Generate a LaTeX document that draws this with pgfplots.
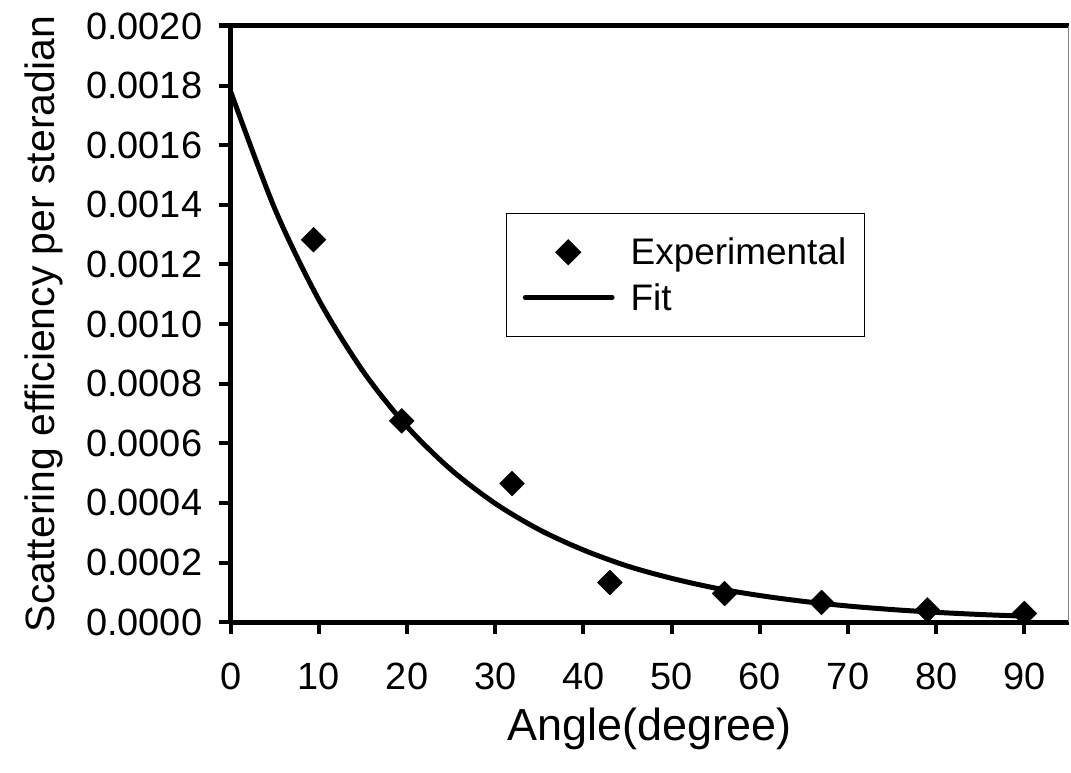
\documentclass[border=0pt]{standalone}
\usepackage{pgfplots}
\pgfplotsset{compat=1.18}
\usepackage{fontspec}
\setmainfont{Liberation Sans}

% measured scattering efficiency per steradian
\pgfplotstableread{
angle  eff
9.4    0.001283
19.4   0.000675
31.9   0.000465
43.0   0.000133
56.0   0.000096
67.0   0.000066
79.0   0.000041
90.0   0.000029
}\experimental

% exponential fit, tabulated every 5 degrees
\pgfplotstableread{
angle  eff
0      0.001780
5      0.001387
10     0.001081
15     0.000842
20     0.000656
25     0.000511
30     0.000398
35     0.000310
40     0.000242
45     0.000188
50     0.000147
55     0.000114
60     0.0000892
65     0.0000695
70     0.0000541
75     0.0000422
80     0.0000329
85     0.0000256
90     0.0000200
}\fitcurve

% legend pictures: one mark for the data, a long line for the fit
\pgfplotsset{
  markleg/.style={legend image code/.code={\draw[mark repeat=2, mark phase=2, ##1] plot coordinates {(0pt,0pt) (43pt,0pt) (87pt,0pt)};}},
  lineleg/.style={legend image code/.code={\draw[##1, line cap=round] (0pt,0pt) -- (87pt,0pt);}},
}

\begin{document}
\begin{tikzpicture}
\begin{axis}[
  scale only axis,
  width=839pt, height=597pt,
  xmin=0, xmax=95, ymin=0, ymax=0.002,
  axis x line*=bottom, axis y line*=left,
  axis line style={line width=5pt, -},
  xtick={0,10,20,30,40,50,60,70,80,90},
  ytick={0,0.0002,0.0004,0.0006,0.0008,0.0010,0.0012,0.0014,0.0016,0.0018,0.0020},
  tick align=outside,
  major tick length=12pt,
  tick style={line width=4pt, black},
  scaled y ticks=false,
  ticklabel style={font=\fontsize{38}{42}\selectfont},
  yticklabel style={xshift=-13pt, /pgf/number format/.cd, fixed, fixed zerofill, precision=4, assume math mode=true},
  xticklabel style={yshift=-25pt, /pgf/number format/assume math mode=true},
  xlabel={Angle(degree)},
  ylabel={Scattering efficiency per steradian},
  xlabel style={font=\fontsize{45}{50}\selectfont},
  ylabel style={font=\fontsize{41}{46}\selectfont},
  xlabel shift=12pt,
  ylabel shift=16pt,
  legend style={at={(0.329,0.687)}, anchor=north west,
    draw=black, line width=1pt,
    font=\fontsize{37}{41}\selectfont,
    inner xsep=16pt, inner ysep=23pt,
    column sep=14pt, row sep=13pt},
  legend cell align=left,
  clip=false,
]
\addplot[only marks, mark=square*, mark size=8.8pt, mark options={rotate=45, fill=black, draw=black}, markleg]
  table[x=angle, y=eff] {\experimental};
\addlegendentry{Experimental}
\addplot[black, line width=5pt, smooth, no marks, lineleg]
  table[x=angle, y=eff] {\fitcurve};
\addlegendentry{Fit}
% top and right frame lines
\draw[line width=5pt] (axis cs:0,0.002) ++(-12pt,0) -- (rel axis cs:1,1);
\draw[line width=1pt, gray] (rel axis cs:1,1) -- (rel axis cs:1,0);
\end{axis}
\path[use as bounding box] (current axis.south west) ++(-231pt,-151pt) rectangle ++(1071pt,774pt);
\end{tikzpicture}
\end{document}
